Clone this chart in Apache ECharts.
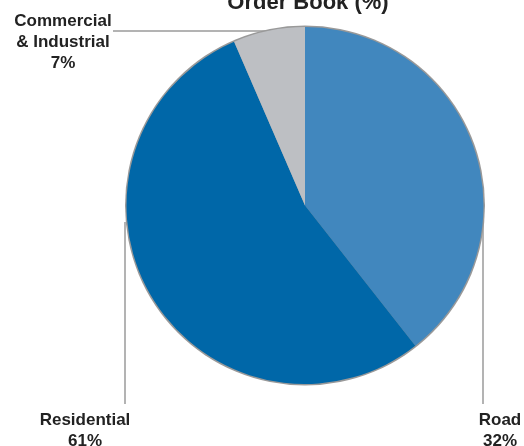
<!DOCTYPE html>
<html>
<head>
<meta charset="utf-8">
<script src="https://cdn.jsdelivr.net/npm/echarts@6/dist/echarts.min.js"></script>
<style>
  html, body { margin: 0; padding: 0; background: #fff; }
  #chart { width: 524px; height: 446px; }
</style>
</head>
<body>
<div id="chart"></div>
<script>
// slice sizes as drawn (share of the circle), clockwise from 12 o'clock
const categories = ['Road', 'Residential', 'Commercial\n& Industrial']
const sliceValues = [39.4, 54.1, 6.5]
// percentages as printed next to each slice
const labelText = ['32%', '61%', '7%']
const colors = ['#4187be', '#0067a8', '#bdbfc3']

const chart = echarts.init(document.getElementById('chart'))

const cx = 305
const cy = 205.5
const r = 178.5

// where each label sits and how its leader line runs
const labelSpots = [
  { x: 500, y: 431, line: [[483, 222], [483, 300], [483, 404]] },
  { x: 85, y: 431, line: [[125, 222], [125, 300], [125, 404]] },
  { x: 63, y: 42, line: [[267, 31], [190, 31], [113, 31]] }
]

const option = {
  backgroundColor: '#fff',
  animation: false,
  title: {
    text: 'Order Book (%)',
    left: 303,
    top: -13,
    textAlign: 'center',
    textStyle: {
      fontFamily: 'Liberation Sans',
      fontWeight: 'bold',
      fontSize: 22,
      color: '#222'
    }
  },
  series: [
    {
      // thin grey rim around the pie
      type: 'pie',
      silent: true,
      center: [cx, cy],
      radius: r + 1.5,
      label: { show: false },
      labelLine: { show: false },
      itemStyle: { color: '#999' },
      data: [{ value: 1, name: 'rim' }],
      z: 1
    },
    {
      type: 'pie',
      center: [cx, cy],
      radius: r,
      startAngle: 90,
      clockwise: true,
      silent: true,
      z: 2,
      itemStyle: { borderWidth: 0 },
      label: {
        show: true,
        position: 'outer',
        alignTo: 'none',
        overflow: 'none',
        fontFamily: 'Liberation Sans',
        fontWeight: 'bold',
        fontSize: 17,
        lineHeight: 21,
        color: '#222',
        align: 'center',
        formatter: p => p.name + '\n' + labelText[p.dataIndex]
      },
      labelLine: {
        show: true,
        lineStyle: { color: '#9a9a9a', width: 1.5 }
      },
      labelLayout: p => {
        const s = labelSpots[p.dataIndex]
        return {
          x: s.x,
          y: s.y,
          align: 'center',
          verticalAlign: 'middle',
          labelLinePoints: s.line
        }
      },
      data: categories.map((c, i) => ({
        name: c,
        value: sliceValues[i],
        itemStyle: { color: colors[i] }
      }))
    }
  ]
}

chart.setOption(option)
</script>
</body>
</html>
